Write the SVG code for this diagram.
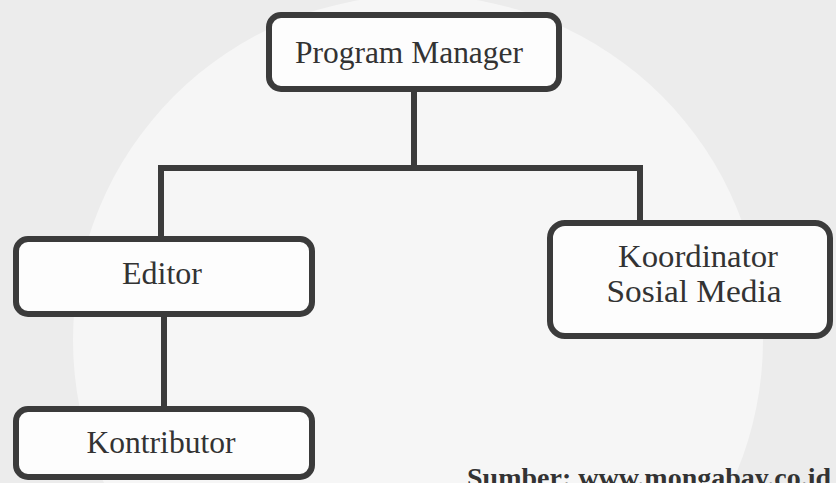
<svg xmlns="http://www.w3.org/2000/svg" width="836" height="483" viewBox="0 0 836 483">
<style>
.box{fill:#fdfdfd;stroke:#3b3b3b;stroke-width:6}
.lbl{font-family:"Liberation Serif","Times New Roman",serif;font-size:32px;fill:#333;text-anchor:middle}
.conn{fill:none;stroke:#3b3b3b;stroke-width:6;stroke-linejoin:miter}
.src{font-family:"Liberation Serif","Times New Roman",serif;font-size:28px;font-weight:bold;fill:#333}
</style>
<rect x="0" y="0" width="836" height="483" fill="#ececec"/>
<circle cx="418" cy="340" r="345" fill="#f6f6f6"/>
<g id="connectors">
<path class="conn" d="M414,89 V168"/>
<path class="conn" d="M161,239 V168 H640 V223"/>
<path class="conn" d="M164,314 V409"/>
</g>
<g id="program-manager">
<rect class="box" x="269" y="15" width="290" height="74" rx="12"/>
<text class="lbl" x="409" y="63" textLength="228" lengthAdjust="spacingAndGlyphs">Program Manager</text>
</g>
<g id="editor">
<rect class="box" x="16" y="239" width="296" height="75" rx="12"/>
<text class="lbl" x="162" y="284" textLength="80" lengthAdjust="spacingAndGlyphs">Editor</text>
</g>
<g id="kontributor">
<rect class="box" x="16" y="409" width="296" height="68" rx="12"/>
<text class="lbl" x="161" y="453" textLength="149" lengthAdjust="spacingAndGlyphs">Kontributor</text>
</g>
<g id="koordinator">
<rect class="box" x="550" y="223" width="280" height="113" rx="15"/>
<text class="lbl" x="698" y="267" textLength="160" lengthAdjust="spacingAndGlyphs">Koordinator</text>
<text class="lbl" x="694" y="302" textLength="175" lengthAdjust="spacingAndGlyphs">Sosial Media</text>
</g>
<text class="src" x="467" y="487">Sumber: www.mongabay.co.id</text>
</svg>
